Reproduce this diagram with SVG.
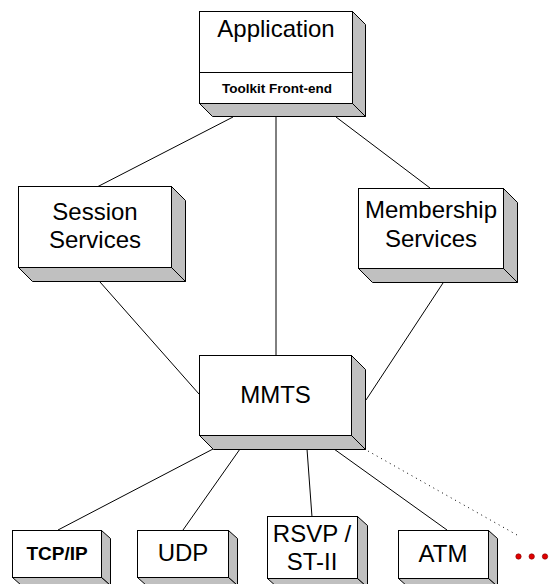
<svg xmlns="http://www.w3.org/2000/svg" width="549" height="584" viewBox="0 0 549 584">
<style>
.front{fill:#fff;stroke:#000;stroke-width:1}
.side{fill:#c0c0c0;stroke:#000;stroke-width:1;stroke-linejoin:miter}
.lbl{font-family:"Liberation Sans",Arial,sans-serif;font-size:24px;fill:#000;text-anchor:middle}
.b{font-weight:bold}
.conn{stroke:#000;stroke-width:1;fill:none}
.dot{stroke-dasharray:1 4}
</style>
<rect width="549" height="584" fill="#fff"/>
<g id="connectors">
<line class="conn" x1="233" y1="117" x2="97" y2="187"/>
<line class="conn" x1="276" y1="117" x2="276" y2="355"/>
<line class="conn" x1="336" y1="117" x2="430" y2="188"/>
<line class="conn" x1="100" y1="282" x2="199" y2="394"/>
<line class="conn" x1="443" y1="283" x2="366" y2="400"/>
<line class="conn" x1="213" y1="449" x2="58" y2="530"/>
<line class="conn" x1="240" y1="449" x2="183" y2="530"/>
<line class="conn" x1="307" y1="449" x2="312" y2="517"/>
<line class="conn" x1="334" y1="449" x2="447" y2="530"/>
<line class="conn dot" x1="368" y1="451" x2="517" y2="535"/>
</g>
<g id="application">
<polygon class="side" points="352.5,11.5 365.5,24.5 365.5,116.5 352.5,103.5"/>
<polygon class="side" points="199.5,103.5 352.5,103.5 365.5,116.5 212.5,116.5"/>
<rect class="front" x="199.5" y="11.5" width="153" height="92"/>
<line class="conn" x1="199.5" y1="72.5" x2="352.5" y2="72.5" stroke="#555"/>
<text class="lbl" x="276" y="37">Application</text>
<text class="lbl b" x="277" y="93" style="font-size:13.5px">Toolkit Front-end</text>
</g>
<g id="session">
<polygon class="side" points="171.5,186.5 185.5,200.5 185.5,281.5 171.5,267.5"/>
<polygon class="side" points="18.5,267.5 171.5,267.5 185.5,281.5 32.5,281.5"/>
<rect class="front" x="18.5" y="186.5" width="153" height="81"/>
<text class="lbl" x="95" y="220">Session</text>
<text class="lbl" x="95" y="248">Services</text>
</g>
<g id="membership">
<polygon class="side" points="503.5,188.5 517.5,202.5 517.5,282.5 503.5,268.5"/>
<polygon class="side" points="358.5,268.5 503.5,268.5 517.5,282.5 372.5,282.5"/>
<rect class="front" x="358.5" y="188.5" width="145" height="80"/>
<text class="lbl" x="431" y="218">Membership</text>
<text class="lbl" x="431" y="247">Services</text>
</g>
<g id="mmts">
<polygon class="side" points="351.5,355.5 365.5,369.5 365.5,449.5 351.5,435.5"/>
<polygon class="side" points="199.5,435.5 351.5,435.5 365.5,449.5 213.5,449.5"/>
<rect class="front" x="199.5" y="355.5" width="152" height="80"/>
<text class="lbl" x="275.5" y="403">MMTS</text>
</g>
<g id="tcpip">
<polygon class="side" points="101.5,530.5 110.5,538.5 110.5,585.5 101.5,577.5"/>
<polygon class="side" points="12.5,577.5 101.5,577.5 110.5,585.5 21.5,585.5"/>
<rect class="front" x="12.5" y="530.5" width="89" height="47"/>
<text class="lbl b" x="57" y="560" style="font-size:19px">TCP/IP</text>
</g>
<g id="udp">
<polygon class="side" points="228.5,530.5 237.5,538.5 237.5,585.5 228.5,577.5"/>
<polygon class="side" points="137.5,577.5 228.5,577.5 237.5,585.5 146.5,585.5"/>
<rect class="front" x="137.5" y="530.5" width="91" height="47"/>
<text class="lbl" x="183" y="561">UDP</text>
</g>
<g id="rsvp">
<polygon class="side" points="357.5,516.5 367.5,525.5 367.5,587.5 357.5,578.5"/>
<polygon class="side" points="267.5,578.5 357.5,578.5 367.5,587.5 277.5,587.5"/>
<rect class="front" x="267.5" y="516.5" width="90" height="62"/>
<text class="lbl" x="312" y="542">RSVP /</text>
<text class="lbl" x="312" y="570">ST-II</text>
</g>
<g id="atm">
<polygon class="side" points="488.5,530.5 497.5,538.5 497.5,586.5 488.5,578.5"/>
<polygon class="side" points="398.5,578.5 488.5,578.5 497.5,586.5 407.5,586.5"/>
<rect class="front" x="398.5" y="530.5" width="90" height="48"/>
<text class="lbl" x="443" y="562">ATM</text>
</g>
<g id="more">
<circle cx="518.5" cy="556.5" r="2.7" fill="#e00000" stroke="#800000" stroke-width="0.6"/>
<circle cx="531.7" cy="556.5" r="2.7" fill="#e00000" stroke="#800000" stroke-width="0.6"/>
<circle cx="545" cy="556.5" r="2.7" fill="#e00000" stroke="#800000" stroke-width="0.6"/>
</g>
</svg>
